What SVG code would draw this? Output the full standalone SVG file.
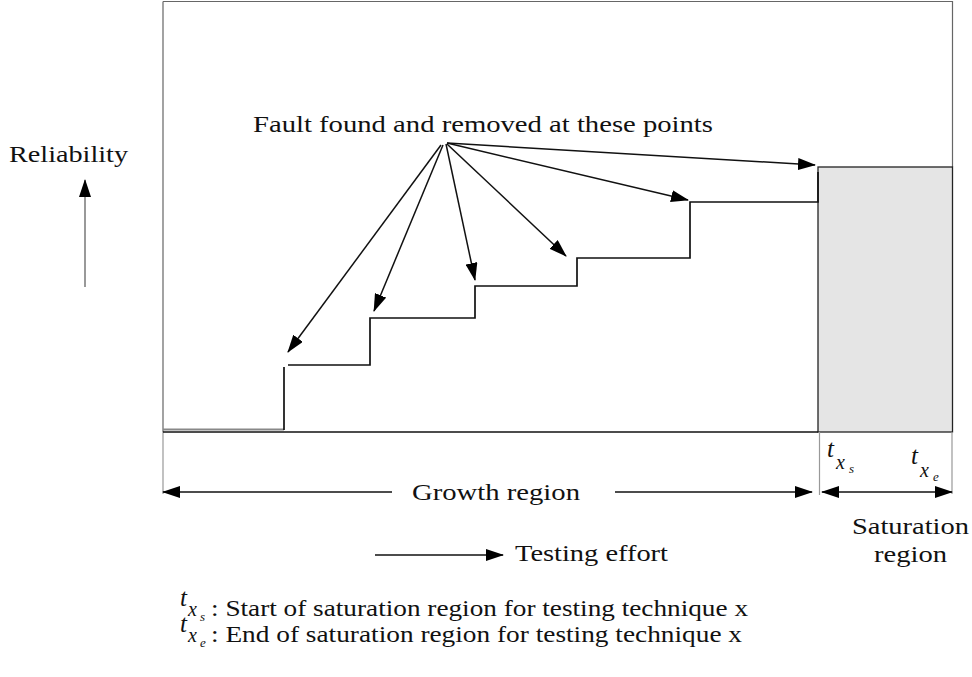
<svg xmlns="http://www.w3.org/2000/svg" width="972" height="677" viewBox="0 0 972 677">
<style>
.t{font-family:"Liberation Serif","Times New Roman",serif;font-size:24px;fill:#111}
.it{font-family:"Liberation Serif","Times New Roman",serif;font-style:italic;fill:#111}
.frame{fill:none;stroke:#666;stroke-width:1.2}
.tick{fill:none;stroke:#999;stroke-width:1.2}
.step{fill:none;stroke:#111;stroke-width:1.7}
.arr{fill:none;stroke:#111;stroke-width:1.5;marker-end:url(#ah)}
</style>
<defs>
<marker id="ah" viewBox="0 0 18 12" refX="17" refY="6" markerWidth="18" markerHeight="12" markerUnits="userSpaceOnUse" orient="auto-start-reverse">
<path d="M0,0 L18,6 L0,12 z" fill="#000"/>
</marker>
</defs>
<rect width="972" height="677" fill="#fff"/>
<g id="plot">
<path class="frame" d="M163,1.5 H952.5 V167 M163,1.5 V432"/>
<rect x="818" y="167" width="134.5" height="265" fill="#e5e5e5" stroke="#222" stroke-width="1.3"/>
<path class="tick" d="M163,432 V494 M819.5,432 V495 M952,432 V494"/>
<line x1="163" y1="432" x2="818" y2="432" stroke="#111" stroke-width="1.3"/>
<line x1="163" y1="429.5" x2="284" y2="429.5" stroke="#888" stroke-width="2"/>
<path class="step" d="M284,430 V367 M288,365 H370 V318 H475 V286 H577 V258 H690 V202 H818 V172"/>
</g>
<g id="connectors">
<line class="arr" x1="441" y1="145" x2="288" y2="352"/>
<line class="arr" x1="443" y1="145" x2="374" y2="311"/>
<line class="arr" x1="446" y1="144" x2="475" y2="280"/>
<line class="arr" x1="447" y1="144" x2="566" y2="256"/>
<line class="arr" x1="447" y1="143" x2="688" y2="200"/>
<line class="arr" x1="447" y1="143" x2="815" y2="165"/>
<line class="arr" x1="392" y1="492" x2="163" y2="492"/>
<line class="arr" x1="615" y1="492" x2="812" y2="492"/>
<line class="arr" x1="822" y1="492" x2="952" y2="492" style="marker-start:url(#ah)"/>
<line class="arr" x1="375" y1="555" x2="503" y2="555"/>
<line x1="85" y1="287" x2="85" y2="180" stroke="#777" stroke-width="1.5" marker-end="url(#ah)"/>
</g>
<g id="labels">
<text class="t" x="253" y="132" textLength="460" lengthAdjust="spacingAndGlyphs">Fault found and removed at these points</text>
<text class="t" x="9" y="162" textLength="119" lengthAdjust="spacingAndGlyphs">Reliability</text>
<text class="t" x="412" y="500" textLength="168" lengthAdjust="spacingAndGlyphs">Growth region</text>
<text class="t" x="515" y="561" textLength="153" lengthAdjust="spacingAndGlyphs">Testing effort</text>
<text class="t" x="852" y="534" textLength="117" lengthAdjust="spacingAndGlyphs">Saturation</text>
<text class="t" x="874" y="562" textLength="73" lengthAdjust="spacingAndGlyphs">region</text>
</g>
<g id="tx-labels">
<text class="it" x="827" y="457" font-size="25">t</text>
<text class="it" x="836" y="469" font-size="20">x</text>
<text class="it" x="849" y="473" font-size="13">s</text>
<text class="it" x="911" y="464" font-size="25">t</text>
<text class="it" x="920" y="477" font-size="20">x</text>
<text class="it" x="933" y="481" font-size="13">e</text>
</g>
<g id="legend">
<text class="it" x="180" y="606" font-size="25">t</text>
<text class="it" x="188" y="616" font-size="20">x</text>
<text class="it" x="200" y="621" font-size="13">s</text>
<text class="t" x="211" y="616" textLength="537" lengthAdjust="spacingAndGlyphs">: Start of saturation region for testing technique x</text>
<text class="it" x="180" y="632" font-size="25">t</text>
<text class="it" x="188" y="642" font-size="20">x</text>
<text class="it" x="200" y="647" font-size="13">e</text>
<text class="t" x="211" y="642" textLength="531" lengthAdjust="spacingAndGlyphs">: End of saturation region for testing technique x</text>
</g>
</svg>
